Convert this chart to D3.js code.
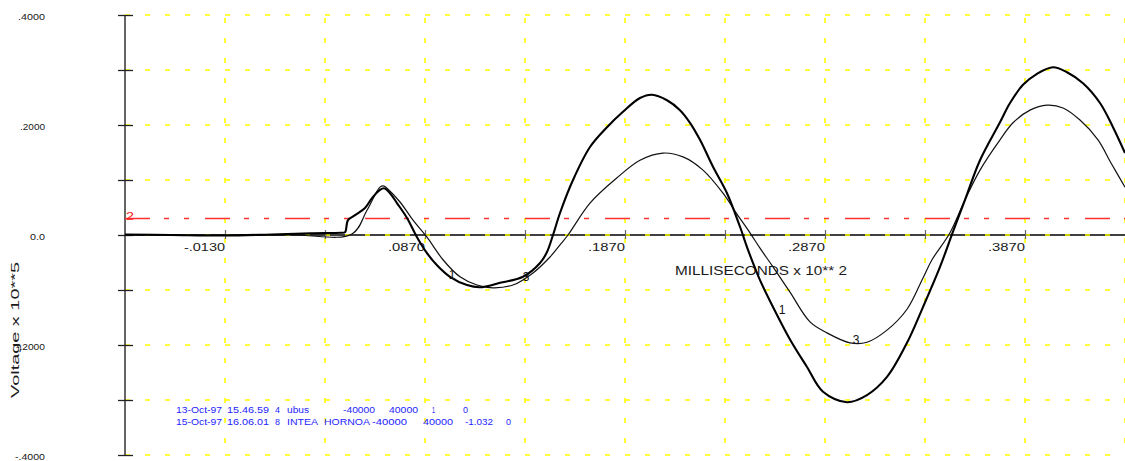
<!DOCTYPE html>
<html>
<head>
<meta charset="utf-8">
<script src="https://cdn.jsdelivr.net/npm/d3@7/dist/d3.min.js"></script>
<style>
html,body{margin:0;padding:0;background:#fff;}
svg{display:block;font-family:"Liberation Sans",Arial,sans-serif;}
</style>
</head>
<body>
<svg id="chart" width="1125" height="461"></svg>
<script>
// ---------------- data ----------------
const xDomain = [-0.063, 0.437];
const yDomain = [-0.4, 0.4];
const xGridValues = [-0.013, 0.037, 0.087, 0.137, 0.187, 0.237, 0.287, 0.337, 0.387, 0.437];
const xLabelValues = [-0.013, 0.087, 0.187, 0.287, 0.387];
const xLabels = ["-.0130", ".0870", ".1870", ".2870", ".3870"];
const yTickValues = [-0.4, -0.3, -0.2, -0.1, 0, 0.1, 0.2, 0.3, 0.4];
const yLabelValues = [0.4, 0.2, 0, -0.2, -0.4];
const yLabels = [".4000", ".2000", "0.0", "-.2000", "-.4000"];
const xTitle = "MILLISECONDS  x 10** 2";
const yTitle = "Voltage x 10**5";

// trace 1 (measured, noisy)
const s1X = [-0.063,-0.04,-0.013,0.01,0.03,0.045,0.047,0.0485,0.052,0.057,0.0605,0.0645,0.0665,0.0695,0.073,0.078,0.083,0.088,0.093,0.0995,0.108,0.1145,0.1245,0.136,0.1445,0.148,0.151,0.1545,0.161,0.1695,0.178,0.186,0.1945,0.2005,0.208,0.2145,0.2195,0.2245,0.231,0.238,0.2445,0.2485,0.2545,0.261,0.2695,0.278,0.286,0.298,0.308,0.318,0.328,0.336,0.3445,0.351,0.357,0.3645,0.3745,0.3795,0.386,0.393,0.401,0.408,0.416,0.4245,0.431,0.437];
const s1Y = [0.001,0.000,-0.001,0.001,0.003,0.004,0.005,0.027,0.036,0.049,0.067,0.082,0.085,0.076,0.058,0.031,-0.004,-0.033,-0.055,-0.076,-0.091,-0.095,-0.087,-0.076,-0.051,-0.031,0.000,0.040,0.100,0.160,0.196,0.224,0.249,0.255,0.245,0.227,0.204,0.173,0.124,0.076,0.015,-0.027,-0.082,-0.131,-0.190,-0.240,-0.285,-0.304,-0.291,-0.258,-0.196,-0.131,-0.058,0.006,0.064,0.136,0.205,0.240,0.273,0.293,0.305,0.296,0.276,0.240,0.196,0.149];
// trace 3 (computed, smooth)
const s3X = [-0.063,0.02,0.0505,0.058,0.0645,0.0665,0.068,0.0745,0.081,0.088,0.096,0.1045,0.113,0.121,0.131,0.141,0.1495,0.1545,0.1585,0.1695,0.183,0.1945,0.206,0.216,0.226,0.236,0.243,0.2495,0.2545,0.261,0.2695,0.2795,0.288,0.2995,0.308,0.318,0.328,0.336,0.3405,0.3495,0.357,0.3645,0.3745,0.381,0.3895,0.398,0.406,0.4145,0.4235,0.43,0.437];
const s3Y = [0,0,0.002,0.045,0.087,0.089,0.085,0.060,0.027,-0.004,-0.045,-0.076,-0.091,-0.096,-0.091,-0.069,-0.040,-0.018,0.000,0.058,0.104,0.136,0.149,0.142,0.118,0.076,0.038,0.004,-0.024,-0.058,-0.104,-0.158,-0.178,-0.196,-0.195,-0.173,-0.135,-0.078,-0.045,0.004,0.064,0.118,0.173,0.204,0.227,0.236,0.231,0.209,0.173,0.131,0.087];
// reference level 2
const refLevel = 0.03;
const refLabel = "2";
// curve labels
const curveLabelText = ["1", "3", "1", "3"];
const curveLabelX = [0.1005, 0.1375, 0.2655, 0.3025];
const curveLabelY = [-0.073, -0.076, -0.136, -0.191];
// info lines
const info1 = ["13-Oct-97", "15.46.59", "4", "ubus", "-40000", "40000", "1", "0"];
const info2 = ["15-Oct-97", "16.06.01", "8", "INTEA", "HORNOA", "-40000", "40000", "-1.032", "0"];

// ---------------- layout ----------------
const svg = d3.select("#chart");
const x = d3.scaleLinear().domain(xDomain).range([125, 1125]);
const y = d3.scaleLinear().domain(yDomain).range([455, 15]);
const y0 = y(0);

// yellow grid
const grid = svg.append("g").attr("stroke", "#ffff00").attr("stroke-width", 1.6).attr("stroke-dasharray", "5,15");
grid.selectAll(".hg").data(yTickValues).join("line")
  .attr("x1", x(xDomain[0])).attr("x2", x(xDomain[1]))
  .attr("y1", d => y(d)).attr("y2", d => y(d));

// zero line (yellow dashes on top)
svg.append("line").attr("x1", x(xDomain[0])).attr("x2", x(xDomain[1]))
  .attr("y1", y0).attr("y2", y0).attr("stroke", "#000").attr("stroke-width", 1.5);
svg.append("g").attr("stroke", "#ffff00").attr("stroke-width", 1.6).attr("stroke-dasharray", "5,15")
  .append("line").attr("x1", x(xDomain[0]) + 20).attr("x2", x(xDomain[1]))
  .attr("y1", y0).attr("y2", y0);

const vgrid = svg.append("g").attr("stroke", "#ffff00").attr("stroke-width", 1.6).attr("stroke-dasharray", "5,15");
vgrid.selectAll("line").data(xGridValues).join("line")
  .attr("x1", d => x(d)).attr("x2", d => x(d))
  .attr("y1", y(yDomain[1]) + 3).attr("y2", y(yDomain[0]));

// x axis ticks on zero line
const xAxis = d3.axisBottom(x).tickValues(xGridValues.filter(v => v < 0.43)).tickSize(4).tickFormat("");
const gx = svg.append("g").attr("transform", `translate(0,${y0})`).call(xAxis);
gx.select(".domain").remove();
gx.selectAll(".tick line").attr("y1", -5).attr("y2", 4).attr("stroke", "#666").attr("stroke-width", 1.2);

// x labels (right aligned at tick)
svg.append("g").selectAll("text").data(xLabelValues).join("text")
  .attr("x", d => x(d)).attr("y", y0 + 16)
  .attr("text-anchor", "end").attr("font-size", 11.5).attr("fill", "#1a1a1a")
  .attr("textLength", (d, i) => xLabels[i].startsWith("-") ? 41 : 37)
  .attr("lengthAdjust", "spacingAndGlyphs")
  .text((d, i) => xLabels[i]);

// y axis
const yAxis = d3.axisLeft(y).tickValues(yTickValues).tickSize(7).tickFormat("");
const gy = svg.append("g").attr("transform", `translate(${x(xDomain[0])},0)`).call(yAxis);
gy.select(".domain").attr("d", `M0,${y(yDomain[1])}V${y(yDomain[0])}`).attr("stroke", "#333").attr("stroke-width", 1.5);
gy.selectAll(".tick line").attr("x1", -7).attr("x2", 8).attr("stroke", "#222").attr("stroke-width", 1.3);

svg.append("g").selectAll("text").data(yLabelValues).join("text")
  .attr("x", 45).attr("y", d => y(d) + 5)
  .attr("text-anchor", "end").attr("font-size", 8.5).attr("fill", "#1a1a1a")
  .attr("textLength", (d, i) => ({".4000": 27, ".2000": 25, "0.0": 15, "-.2000": 29, "-.4000": 30})[yLabels[i]])
  .attr("lengthAdjust", "spacingAndGlyphs")
  .text((d, i) => yLabels[i]);

// axis titles
svg.append("text").attr("x", 675).attr("y", 275).attr("font-size", 12).attr("fill", "#1a1a1a")
  .attr("textLength", 172).attr("lengthAdjust", "spacingAndGlyphs").text(xTitle);
svg.append("text").attr("transform", "translate(19,330) rotate(-90)")
  .attr("text-anchor", "middle").attr("font-size", 11.5).attr("fill", "#1a1a1a")
  .attr("textLength", 136).attr("lengthAdjust", "spacingAndGlyphs").text(yTitle);

// red reference line
svg.append("line").attr("x1", x(xDomain[0])).attr("x2", x(xDomain[1]))
  .attr("y1", y(refLevel)).attr("y2", y(refLevel))
  .attr("stroke", "#ff3030").attr("stroke-width", 1.5).attr("stroke-dasharray", "25,14,5,15,5,16");
svg.append("text").attr("x", 126).attr("y", y(refLevel) + 1)
  .attr("font-size", 11).attr("fill", "#ff2020").attr("textLength", 8).attr("lengthAdjust", "spacingAndGlyphs").text(refLabel);

// traces
const line = d3.line().x(d => x(d[0])).y(d => y(d[1])).curve(d3.curveCatmullRom.alpha(0.5));
const t3 = s3X.map((v, i) => [v, s3Y[i]]);
const t1 = s1X.map((v, i) => [v, s1Y[i]]);
svg.append("path").attr("d", line(t3)).attr("fill", "none").attr("stroke", "#111").attr("stroke-width", 1.2);
svg.append("path").attr("d", line(t1)).attr("fill", "none").attr("stroke", "#000").attr("stroke-width", 2.1).attr("stroke-linejoin", "round");

// curve labels
svg.append("g").selectAll("text").data(curveLabelText).join("text")
  .attr("x", (d, i) => x(curveLabelX[i])).attr("y", (d, i) => y(curveLabelY[i]) + 4)
  .attr("text-anchor", "middle").attr("font-size", 12).attr("fill", "#111")
  .text(d => d);

// info lines
const info1X = [176, 227, 275, 287, 343, 389, 432, 463];
const info1W = [46, 42, 5, 22, 32, 29, 3, 5];
const info2X = [176, 227, 275, 287, 324, 372, 423, 465, 506];
const info2W = [46, 42, 5, 31, 46, 35, 30, 28, 5];
const info = svg.append("g").attr("font-size", 8.3).attr("fill", "#2424ff");
info.selectAll(".i1").data(info1).join("text").attr("class", "i1")
  .attr("x", (d, i) => info1X[i]).attr("y", 413)
  .attr("textLength", (d, i) => info1W[i]).attr("lengthAdjust", "spacingAndGlyphs").text(d => d);
info.selectAll(".i2").data(info2).join("text").attr("class", "i2")
  .attr("x", (d, i) => info2X[i]).attr("y", 425)
  .attr("textLength", (d, i) => info2W[i]).attr("lengthAdjust", "spacingAndGlyphs").text(d => d);
</script>
</body>
</html>
